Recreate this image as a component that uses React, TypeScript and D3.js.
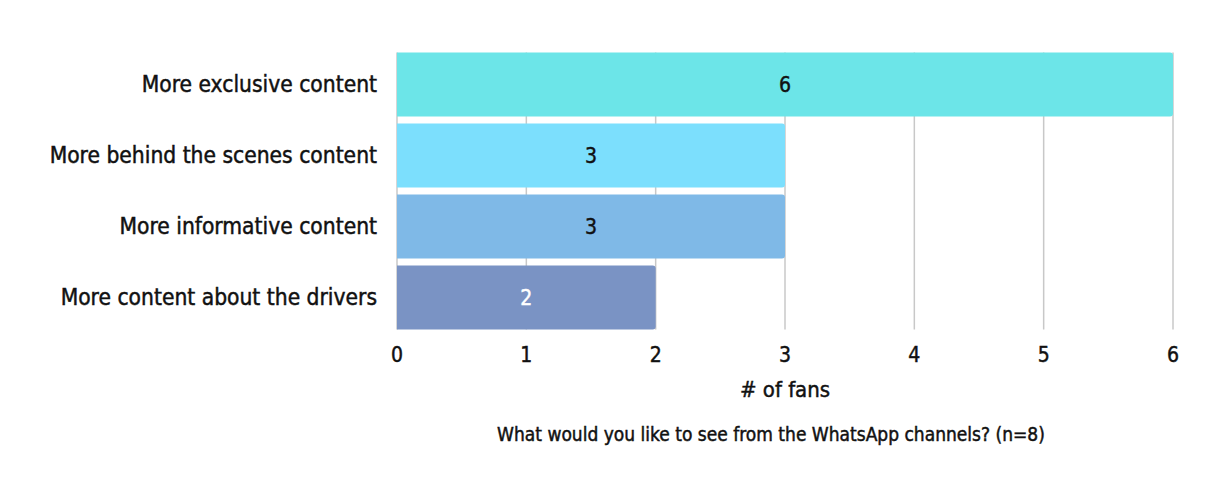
import React from "react";
import * as d3 from "d3";

const categories = [
  "More exclusive content",
  "More behind the scenes content",
  "More informative content",
  "More content about the drivers",
];
const values = [6, 3, 3, 2];
const barColors = ["#6ce5e8", "#7cdffd", "#7fb9e7", "#7a93c4"];
const labelColors = ["#111111", "#111111", "#111111", "#ffffff"];
const ticks = [0, 1, 2, 3, 4, 5, 6];
const axisTitle = "# of fans";
const subtitle = "What would you like to see from the WhatsApp channels? (n=8)";

const W = 1232;
const H = 492;
const FONT = "'DejaVu Sans Condensed', 'DejaVu Sans', sans-serif";

export default function App() {
  const x = d3.scaleLinear().domain([0, 6]).range([397, 1173]);
  const y = d3.scaleBand<string>().domain(categories).range([49, 333]).paddingInner(0.1).paddingOuter(0.05);
  const bh = y.bandwidth();
  const r = 3;
  const barPath = (v: number, top: number) => {
    const x0 = x(0);
    const x1 = x(v);
    return `M${x0},${top}H${x1 - r}Q${x1},${top} ${x1},${top + r}V${top + bh - r}Q${x1},${top + bh} ${x1 - r},${top + bh}H${x0}Z`;
  };
  const heavy = (c: string) => ({ stroke: c, strokeWidth: 0.45 });
  return (
    <svg width={W} height={H} style={{ position: "absolute", left: 0, top: 0, background: "#fff" }} fontFamily={FONT}>
      <rect width={W} height={H} fill="#fff" />
      {ticks.map((t) => (
        <line key={t} x1={x(t)} x2={x(t)} y1={y(categories[0])!} y2={y(categories[3])! + bh} stroke="#c8c8c8" strokeWidth={1.5} />
      ))}
      {categories.map((c, i) => (
        <g key={c}>
          <path d={barPath(values[i], y(c)!)} fill={barColors[i]} />
          <text x={(x(0) + x(values[i])) / 2} y={y(c)! + bh / 2} dy="0.35em" textAnchor="middle" fontSize={21} fill={labelColors[i]} {...heavy(labelColors[i])}>
            {values[i]}
          </text>
          <text x={377} y={y(c)! + bh / 2} dy="0.35em" textAnchor="end" fontSize={22.6} fill="#111" {...heavy("#111")}>
            {c}
          </text>
        </g>
      ))}
      {ticks.map((t) => (
        <text key={t} x={x(t)} y={355} dy="0.35em" textAnchor="middle" fontSize={21} fill="#111" {...heavy("#111")}>
          {t}
        </text>
      ))}
      <text x={x(3)} y={389} dy="0.35em" textAnchor="middle" fontSize={22} fill="#111" {...heavy("#111")}>{axisTitle}</text>
      <text x={771} y={434} dy="0.35em" textAnchor="middle" fontSize={19} fill="#111" {...heavy("#111")}>{subtitle}</text>
    </svg>
  );
}
